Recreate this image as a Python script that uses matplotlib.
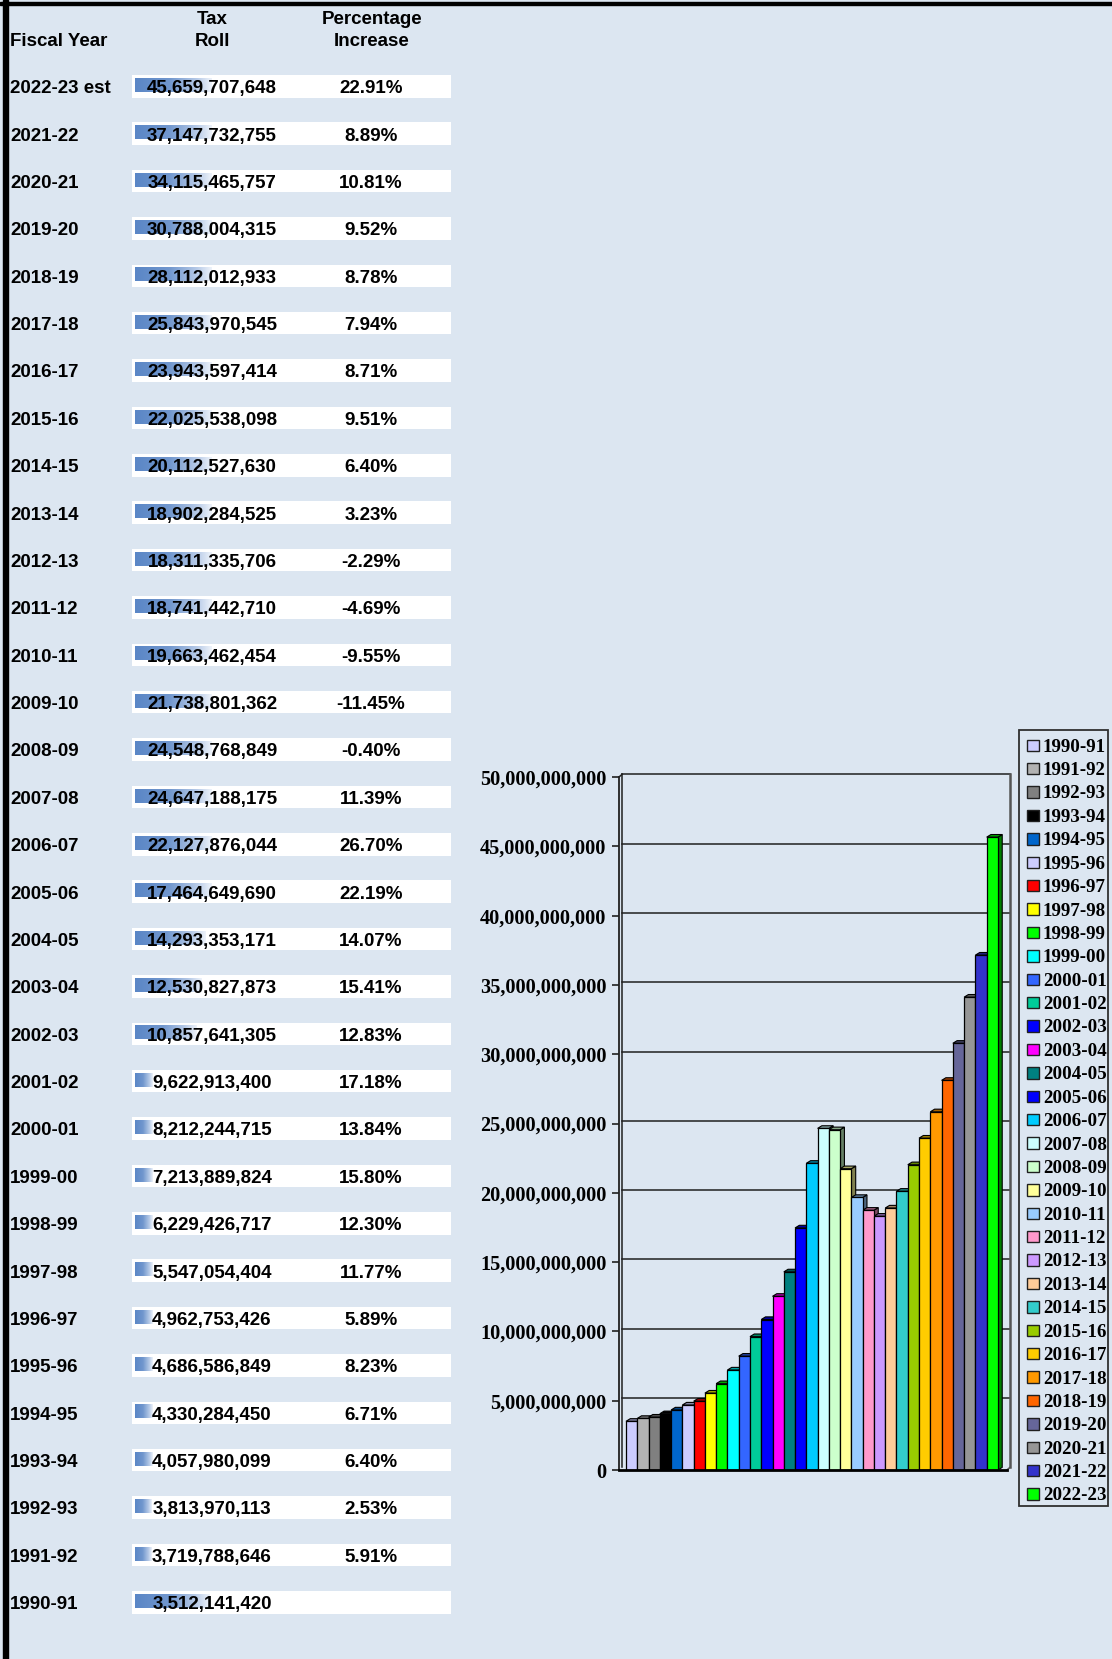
import matplotlib.pyplot as plt
import matplotlib.colors as mcolors
from matplotlib.patches import Rectangle, Polygon
import numpy as np

# data, newest first (as in the table)
fiscal_years = [
    "2022-23 est", "2021-22", "2020-21", "2019-20", "2018-19", "2017-18",
    "2016-17", "2015-16", "2014-15", "2013-14", "2012-13", "2011-12",
    "2010-11", "2009-10", "2008-09", "2007-08", "2006-07", "2005-06",
    "2004-05", "2003-04", "2002-03", "2001-02", "2000-01", "1999-00",
    "1998-99", "1997-98", "1996-97", "1995-96", "1994-95", "1993-94",
    "1992-93", "1991-92", "1990-91",
]
tax_roll = [
    45659707648, 37147732755, 34115465757, 30788004315, 28112012933,
    25843970545, 23943597414, 22025538098, 20112527630, 18902284525,
    18311335706, 18741442710, 19663462454, 21738801362, 24548768849,
    24647188175, 22127876044, 17464649690, 14293353171, 12530827873,
    10857641305, 9622913400, 8212244715, 7213889824, 6229426717,
    5547054404, 4962753426, 4686586849, 4330284450, 4057980099,
    3813970113, 3719788646, 3512141420,
]
pct_increase = [
    "22.91%", "8.89%", "10.81%", "9.52%", "8.78%", "7.94%", "8.71%",
    "9.51%", "6.40%", "3.23%", "-2.29%", "-4.69%", "-9.55%", "-11.45%",
    "-0.40%", "11.39%", "26.70%", "22.19%", "14.07%", "15.41%", "12.83%",
    "17.18%", "13.84%", "15.80%", "12.30%", "11.77%", "5.89%", "8.23%",
    "6.71%", "6.40%", "2.53%", "5.91%", "",
]
# spreadsheet data-bar fill as it appears in the picture (fraction of full bar)
databar_fill = [
    1.0, 1.0, 1.0, 1.0, 1.0, 1.0, 1.0, 1.0, 1.0, 1.0, 1.0, 1.0, 1.0, 1.0,
    1.0, 1.0, 1.0, 1.0, 0.91, 0.86, 0.8, 0.23, 0.23, 0.23, 0.23, 0.23,
    0.23, 0.23, 0.23, 0.23, 0.22, 0.22, 0.97,
]

# chart: oldest first
chart_labels = [
    "1990-91", "1991-92", "1992-93", "1993-94", "1994-95", "1995-96",
    "1996-97", "1997-98", "1998-99", "1999-00", "2000-01", "2001-02",
    "2002-03", "2003-04", "2004-05", "2005-06", "2006-07", "2007-08",
    "2008-09", "2009-10", "2010-11", "2011-12", "2012-13", "2013-14",
    "2014-15", "2015-16", "2016-17", "2017-18", "2018-19", "2019-20",
    "2020-21", "2021-22", "2022-23",
]
chart_values = tax_roll[::-1]
bar_colors = [
    "#CCCCFF", "#B2B2B2", "#808080", "#000000", "#0066CC", "#CCCCFF",
    "#FF0000", "#FFFF00", "#00FF00", "#00FFFF", "#3366FF", "#00CC99",
    "#0000FF", "#FF00FF", "#008080", "#0000FF", "#00CCFF", "#CCFFFF",
    "#CCFFCC", "#FFFF99", "#99CCFF", "#FF99CC", "#CC99FF", "#FFCC99",
    "#33CCCC", "#99CC00", "#FFCC00", "#FF9900", "#FF6600", "#666699",
    "#969696", "#3333CC", "#00FF00",
]

W, H = 1112, 1659
BG = "#DCE6F1"
SANS = "Liberation Sans"
SERIF = "Liberation Serif"


def shade(c, f):
    r, g, b = mcolors.to_rgb(c)
    return (r * f, g * f, b * f)


def main():
    fig = plt.figure(figsize=(W / 100, H / 100), dpi=100, facecolor=BG)

    # ---------- table (pixel coordinates) ----------
    ax_t = fig.add_axes([0, 0, 1, 1])
    ax_t.set_xlim(0, W)
    ax_t.set_ylim(H, 0)
    ax_t.axis("off")

    ax_t.add_patch(Rectangle((3, 0), 5, H, color="black"))
    ax_t.add_patch(Rectangle((0, 1.5), W, 3.5, color="black"))

    hdr = dict(fontfamily=SANS, fontweight="bold", fontsize=13.5)
    ax_t.text(10, 46.5, "Fiscal Year", ha="left", va="baseline", **hdr)
    ax_t.text(212, 24.5, "Tax", ha="center", va="baseline", **hdr)
    ax_t.text(212, 46.5, "Roll", ha="center", va="baseline", **hdr)
    ax_t.text(372, 24.5, "Percentage", ha="center", va="baseline", **hdr)
    ax_t.text(372, 46.5, "Increase", ha="center", va="baseline", **hdr)

    grad = mcolors.LinearSegmentedColormap.from_list(
        "db", [(0, "#5A86C6"), (0.45, "#7197CE"), (0.8, "#B5C9E7"),
               (1, "#EEF3FA")])
    gradient = np.linspace(0, 1, 256).reshape(1, -1)
    full_bar = 77.0

    row_step = 47.375
    for i, (fy, val, pct, fill) in enumerate(
            zip(fiscal_years, tax_roll, pct_increase, databar_fill)):
        yc = 86.3 + i * row_step
        ax_t.add_patch(Rectangle((132, yc - 11.3), 319, 22.6,
                                 facecolor="white", edgecolor="none"))
        ax_t.imshow(gradient, cmap=grad, aspect="auto",
                    extent=(135, 135 + full_bar * fill, yc + 5.6, yc - 8.4),
                    zorder=2, interpolation="bilinear")
        base = yc + 6.9
        ax_t.text(10, base, fy, ha="left", va="baseline", zorder=3, **hdr)
        ax_t.text(212, base, f"{val:,}", ha="center", va="baseline",
                  zorder=3, **hdr)
        if pct:
            ax_t.text(371, base, pct, ha="center", va="baseline",
                      zorder=3, **hdr)

    # ---------- legend ----------
    ax_t.add_patch(Rectangle((1019, 730), 89, 776, facecolor="none",
                             edgecolor="#303030", linewidth=1.3, zorder=4))
    for i, (lab, col) in enumerate(zip(chart_labels, bar_colors)):
        yc = 745 + i * 23.4
        ax_t.add_patch(Rectangle((1027, yc - 5.5), 11.5, 11.5, facecolor=col,
                                 edgecolor="#202020", linewidth=1.0, zorder=4))
        ax_t.text(1043, yc + 6.7, lab, ha="left", va="baseline",
                  fontfamily=SERIF, fontweight="bold", fontsize=13.7,
                  zorder=4)

    # ---------- 3D-looking bar chart ----------
    ax = fig.add_axes([619 / W, (H - 1470) / H, 391 / W, 693 / H])
    ax.set_facecolor("none")
    x0, x1 = -1.12, 33.57
    ax.set_xlim(x0, x1)
    ax.set_ylim(0, 50e9)

    dx = 0.38          # bar depth in bar-width units
    dy = 0.19e9        # bar depth in value units
    wall = 0.27        # back wall offset

    ticks = np.arange(0, 50e9 + 1, 5e9)
    for t in ticks[1:]:
        ax.plot([x0 + wall, x1], [t + dy, t + dy], color="#202020",
                linewidth=1.1, zorder=1, clip_on=False)
    ax.plot([x0 + wall, x0 + wall], [dy, 50e9 + dy], color="#202020",
            linewidth=1.1, zorder=1, clip_on=False)
    ax.plot([x0, x0 + wall], [50e9, 50e9 + dy], color="#202020",
            linewidth=1.1, zorder=1, clip_on=False)
    ax.plot([x1, x1], [dy, 50e9 + dy], color="#555555", linewidth=1.8,
            zorder=1, clip_on=False)

    xs = np.arange(len(chart_values))
    for x, v, c in zip(xs, chart_values, bar_colors):
        top = Polygon([(x - 0.5, v), (x + 0.5, v), (x + 0.5 + dx, v + dy),
                       (x - 0.5 + dx, v + dy)], closed=True,
                      facecolor=shade(c, 0.65), edgecolor="black",
                      linewidth=0.8, zorder=2, clip_on=False)
        side = Polygon([(x + 0.5, 0), (x + 0.5, v), (x + 0.5 + dx, v + dy),
                        (x + 0.5 + dx, dy)], closed=True,
                       facecolor=shade(c, 0.5), edgecolor="black",
                       linewidth=0.8, zorder=2, clip_on=False)
        ax.add_patch(side)
        ax.add_patch(top)
    ax.bar(xs, chart_values, width=1.0, color=bar_colors, edgecolor="black",
           linewidth=0.9, zorder=3)

    # floor
    ax.plot([x0, x1 - wall], [0, 0], color="black", linewidth=2.0,
            zorder=4, clip_on=False)
    ax.plot([x1 - wall, x1], [0, dy], color="#555555", linewidth=1.2,
            zorder=1, clip_on=False)

    for s in ["top", "right", "bottom"]:
        ax.spines[s].set_visible(False)
    ax.spines["left"].set_linewidth(1.3)
    ax.spines["left"].set_color("#202020")
    ax.set_xticks([])
    ax.set_yticks(ticks)
    ax.set_yticklabels([f"{int(t):,}" for t in ticks], fontfamily=SERIF,
                       fontweight="bold", fontsize=14.6)
    ax.tick_params(axis="y", length=5, width=1.2, pad=4, color="#202020")

    fig.savefig("out.png", dpi=100, facecolor=BG)


if __name__ == "__main__":
    main()
